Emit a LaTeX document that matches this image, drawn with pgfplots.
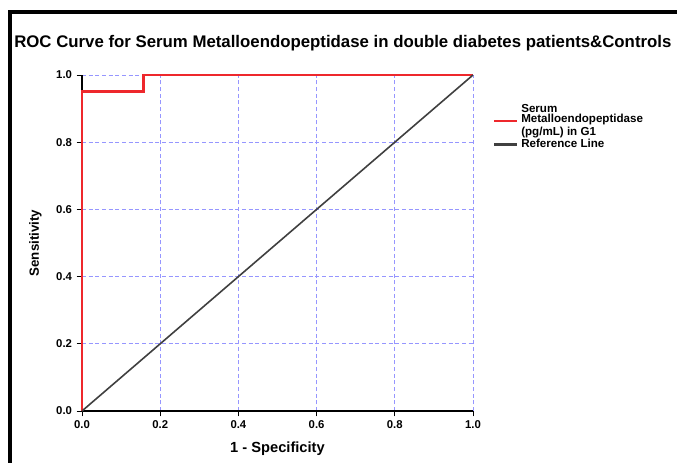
\documentclass[border=0pt]{standalone}
\usepackage{fontspec}
\setmainfont{Liberation Sans}
\usepackage{pgfplots}
\pgfplotsset{compat=1.18}
\definecolor{roc}{RGB}{238,40,44}
\definecolor{refline}{RGB}{64,64,64}
\definecolor{gridblue}{RGB}{150,150,255}

\begin{document}
\begin{tikzpicture}
\useasboundingbox (0,0) rectangle (507.75pt,347.25pt);
% outer frame of the exported chart (cropped on right and bottom)
\draw[line width=3pt] (7.5pt,-20pt) -- (7.5pt,338pt) -- (530pt,338pt);
\node[anchor=west, font=\bfseries\fontsize{12.6}{14}\selectfont, inner sep=0pt]
  at (10.5pt,315pt) {ROC Curve for Serum Metalloendopeptidase in double diabetes patients\&Controls};
\begin{axis}[
  at={(61.5pt,39pt)}, anchor=south west,
  scale only axis, width=293.25pt, height=252pt,
  xmin=0, xmax=1, ymin=0, ymax=1,
  axis x line=bottom, axis y line=left,
  axis line style={-, black, line width=0.8pt},
  xtick={0,0.2,...,1}, ytick={0,0.2,...,1},
  tick align=outside, major tick length=4pt,
  tick style={black, line width=0.6pt},
  grid=major,
  major grid style={gridblue, dash pattern=on 3pt off 2pt, line width=0.6pt},
  /pgf/number format/.cd, fixed, fixed zerofill, precision=1, assume math mode=true,
  /pgfplots/.cd,
  ticklabel style={font=\bfseries\fontsize{8.5}{10}\selectfont},
  xlabel={1 - Specificity}, ylabel={Sensitivity},
  xlabel style={font=\bfseries\fontsize{11}{13}\selectfont, yshift=-3pt},
  ylabel style={font=\bfseries\fontsize{10}{12}\selectfont, yshift=4pt},
  legend style={at={(1.04,0.93)}, anchor=north west, draw=none, fill=none,
    font=\bfseries\fontsize{8.7}{8}\selectfont, cells={align=left},
    row sep=-2.5pt},
  legend cell align=left,
  clip=false,
]
\addplot[roc, line width=2.2pt, forget plot] coordinates {
  (0,0) (0,0.952) (0.158,0.952) (0.158,1) (1,1)
};
\addlegendimage{roc, line width=1.4pt}
\addlegendentry{Serum\\Metalloendopeptidase\\(pg/mL) in G1}
\addplot[refline, line width=1.2pt, forget plot] coordinates {(0,0) (1,1)};
\addlegendimage{refline, line width=2.2pt}
\addlegendentry{Reference Line}
\end{axis}
\end{tikzpicture}
\end{document}
